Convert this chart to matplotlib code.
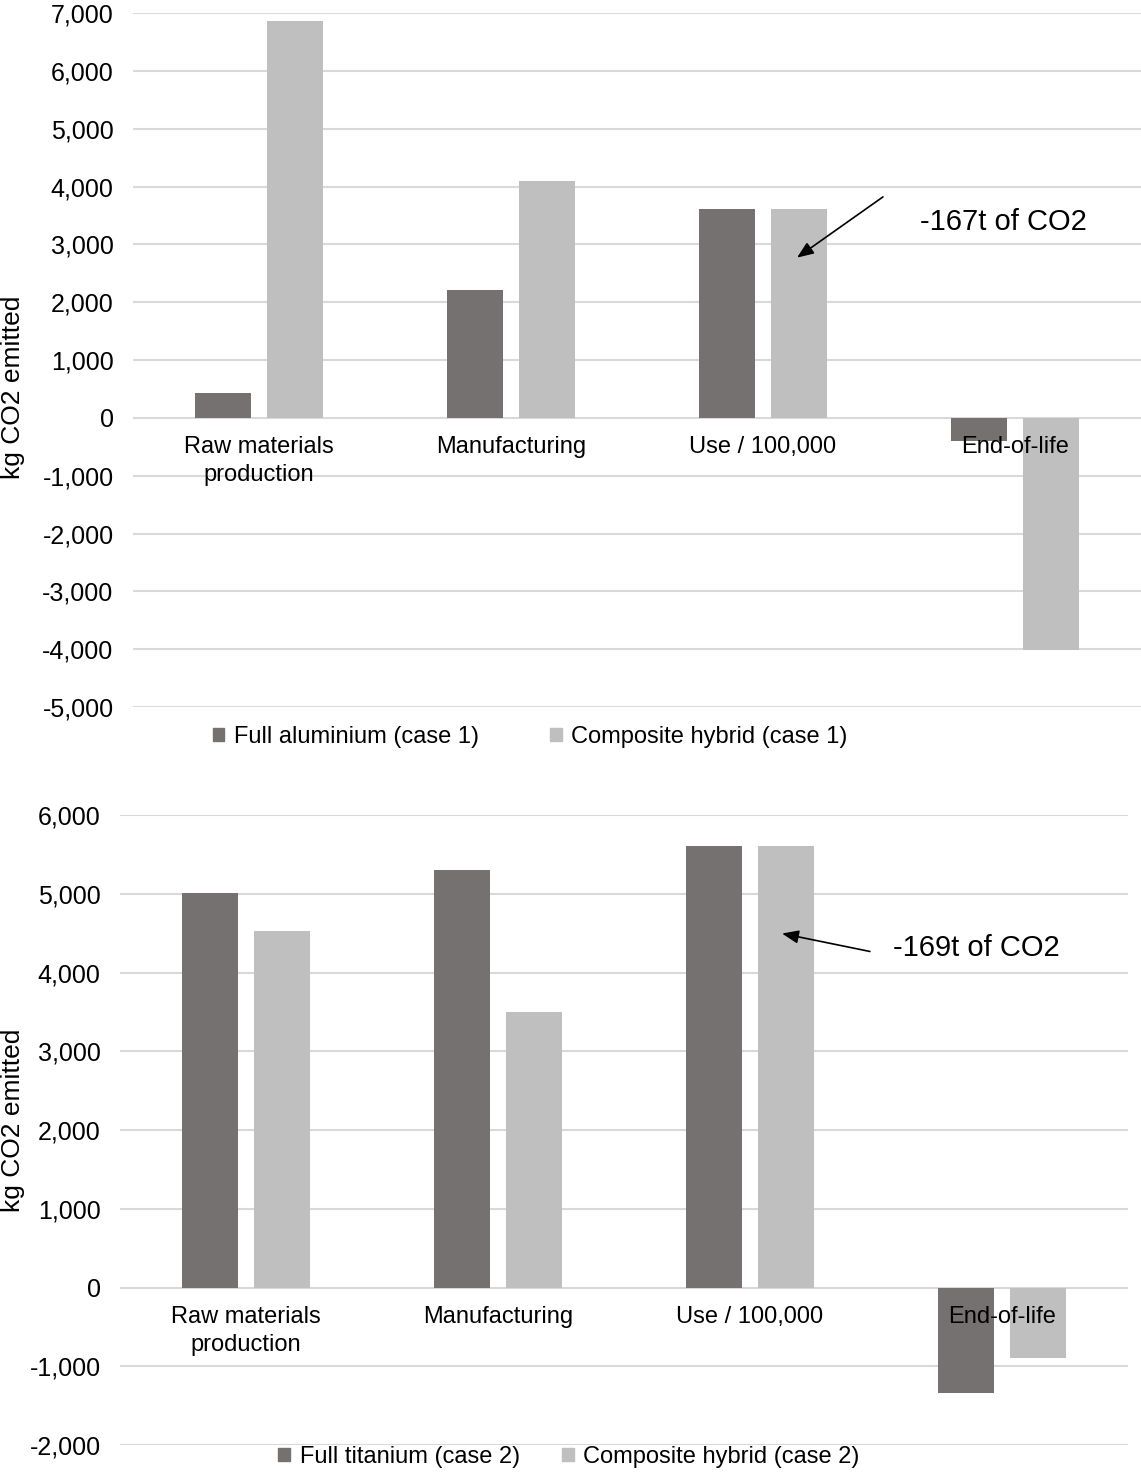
import matplotlib
matplotlib.use("Agg")
import matplotlib.pyplot as plt
import matplotlib.patches as mpatches
import numpy as np

plt.rcParams['font.family'] = ['Liberation Sans', 'DejaVu Sans']

stages = ['Raw materials\nproduction', 'Manufacturing', 'Use / 100,000', 'End-of-life']

# case 1: aluminium vs composite hybrid
alu_case1 = [430, 2210, 3610, -400]
hybrid_case1 = [6860, 4100, 3610, -4010]

# case 2: titanium vs composite hybrid
ti_case2 = [5010, 5300, 5610, -1345]
hybrid_case2 = [4530, 3500, 5610, -890]

dark = '#767171'
light = '#BFBFBF'
grid_col = '#D9D9D9'
fs = 17

W, H = 1141, 1472
fig = plt.figure(figsize=(W / 100, H / 100), dpi=100)


def draw_panel(ax, first, second, ylim, labels, legend_xy, colspace, note, note_xy, tip, tail):
    x = np.arange(len(stages))
    bw = 0.222
    off = 0.142
    ax.bar(x - off, first, bw, color=dark, zorder=3)
    ax.bar(x + off, second, bw, color=light, zorder=3)
    ax.set_xlim(-0.5, len(stages) - 0.5)
    ax.set_ylim(*ylim)
    ax.set_yticks(np.arange(ylim[0], ylim[1] + 1, 1000))
    ax.yaxis.set_major_formatter(matplotlib.ticker.FuncFormatter(lambda v, p: f'{int(v):,}'))
    ax.tick_params(axis='y', length=0, pad=14, labelsize=18)
    ax.set_xticks([])
    for s in ax.spines.values():
        s.set_visible(False)
    ax.yaxis.grid(True, color=grid_col, linewidth=1.5, zorder=0)
    ax.set_axisbelow(True)
    ax.set_ylabel('kg CO2 emitted', fontsize=19)
    for i, lab in enumerate(stages):
        ax.annotate(lab, xy=(i, 0), xytext=(0, -13), textcoords='offset points',
                    ha='center', va='top', fontsize=fs, linespacing=1.35, zorder=5)
    handles = [mpatches.Patch(color=dark, label=labels[0]),
               mpatches.Patch(color=light, label=labels[1])]
    fig.legend(handles=handles, loc='center', bbox_to_anchor=legend_xy, ncol=2,
               frameon=False, fontsize=fs, handlelength=0.5, handleheight=0.5,
               handletextpad=0.4, columnspacing=colspace, borderaxespad=0)
    ax.annotate('', xy=tip, xytext=tail,
                arrowprops=dict(arrowstyle='-|>,head_length=1.0,head_width=0.4',
                                color='black', lw=1.2, shrinkA=0, shrinkB=0), zorder=6)
    ax.text(note_xy[0], note_xy[1], note, fontsize=21, ha='left', va='center', zorder=6)


ax1 = fig.add_axes([133 / W, 1 - 707 / H, 1008 / W, 694 / H])
draw_panel(ax1, alu_case1, hybrid_case1, (-5000, 7000),
           ['Full aluminium (case 1)', 'Composite hybrid (case 1)'],
           (530 / W, 1 - 737 / H), 3.0,
           '-167t of CO2', (2.623, 3390), (2.135, 2770), (2.476, 3820))
ax1.yaxis.set_label_coords(-0.107, 0.46)

ax2 = fig.add_axes([120 / W, 1 - 1445 / H, 1008 / W, 630 / H])
draw_panel(ax2, ti_case2, hybrid_case2, (-2000, 6000),
           ['Full titanium (case 2)', 'Composite hybrid (case 2)'],
           (569 / W, 1 - 1457 / H), 1.8,
           '-169t of CO2', (2.567, 4317), (2.127, 4495), (2.476, 4267))
ax2.yaxis.set_label_coords(-0.094, 0.516)

fig.savefig('out.png', dpi=100)
